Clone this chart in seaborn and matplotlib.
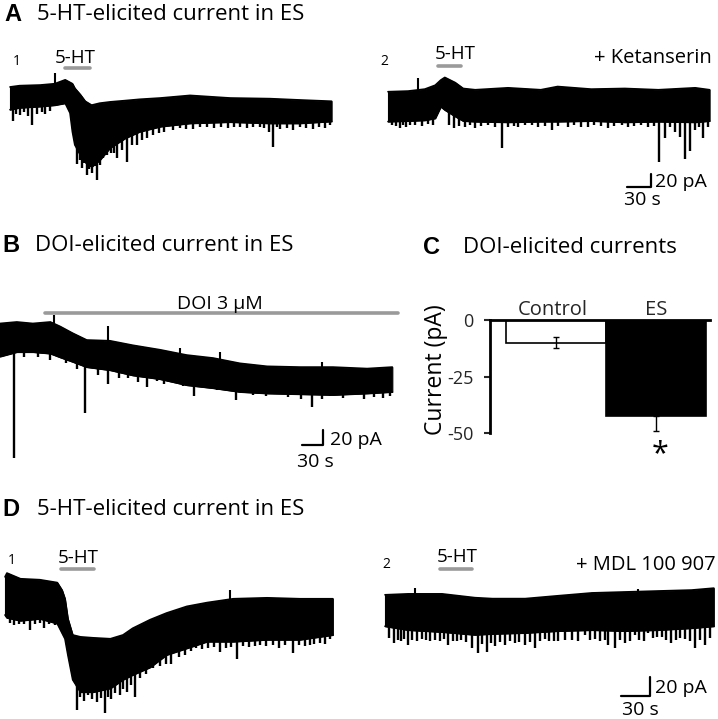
import numpy as np
import matplotlib
matplotlib.use("Agg")
import matplotlib.pyplot as plt
import seaborn as sns

W, H = 718, 719
sns.set_theme(style="white")
plt.rcParams["font.family"] = ["Open Sans", "DejaVu Sans"]

# ── Panel A1: 5-HT in ES (time s, current pA) ────────────────────────────────
a1_t      = [0, 12, 38, 56, 69, 75, 78, 81, 88, 94, 102, 112, 125, 144, 162, 188, 225, 275, 325, 362, 402]
a1_top    = [17, 19, 20, 22, 28, 24, 22, 15, 5, -5, -11, -8, -6, -4, -2, 0, 4, 0, -1, -3, -5]
a1_bottom = [-18, -15, -13, -11, -8, -23, -52, -72, -88, -99, -106, -96, -77, -62, -52, -44, -39, -37, -39, -39, -36]
a1_spk_t  = [4, 8, 12, 17, 22, 28, 34, 40, 44, 50, 84, 87, 90, 93, 96, 99, 102, 106, 109, 112, 116, 121, 126, 130,
             134, 140, 146, 152, 159, 165, 171, 179, 186, 193, 204, 212, 220, 229, 238, 246, 255, 264, 272, 280,
             288, 296, 304, 312, 318, 324, 329, 334, 338, 346, 354, 362, 370, 379, 386, 394, 400]
a1_spk_i  = [-36, -24, -26, -22, -28, -42, -25, -21, -24, -20, -101, -96, -108, -100, -119, -110, -116, -104, -126, -103,
             -92, -88, -85, -84, -93, -80, -98, -72, -72, -65, -62, -57, -54, -52, -49, -46, -48, -47, -44, -45,
             -46, -44, -46, -45, -44, -46, -44, -44, -46, -52, -75, -45, -47, -46, -49, -45, -46, -47, -45, -46, -42]
a1_up_t   = [56]
a1_up_i   = [38]
a1_drug   = (69, 100)

# ── Panel A2: 5-HT + ketanserin ─────────────────────────────────────────────
a2_t      = [0, 25, 46, 59, 66, 71, 84, 94, 109, 150, 191, 212, 254, 296, 338, 384, 402]
a2_top    = [22, 23, 26, 32, 40, 44, 36, 27, 25, 28, 25, 30, 26, 27, 25, 28, 25]
a2_bottom = [-24, -23, -22, -19, -1, -6, -16, -23, -24, -25, -24, -24, -23, -25, -24, -25, -23]
a2_spk_t  = [5, 10, 15, 19, 23, 28, 34, 42, 50, 56, 76, 82, 89, 96, 103, 109, 116, 125, 134, 142, 150, 157, 163,
             171, 180, 188, 196, 205, 213, 225, 233, 241, 250, 258, 266, 275, 283, 292, 300, 308, 316, 325, 332,
             339, 346, 352, 359, 365, 371, 378, 384, 389, 394, 400]
a2_spk_i  = [-29, -31, -34, -30, -32, -30, -29, -31, -27, -30, -30, -34, -31, -32, -30, -34, -31, -30, -33, -65, -32,
             -31, -32, -30, -29, -32, -31, -37, -31, -32, -30, -33, -32, -30, -31, -34, -31, -30, -32, -31, -30,
             -32, -31, -86, -50, -33, -40, -47, -81, -70, -37, -33, -50, -32]
a2_up_t   = [38]
a2_up_i   = [43]
a2_drug   = (62, 91)

# ── Panel B: DOI in ES ──────────────────────────────────────────────────────
b_t      = [0, 24, 47, 72, 86, 104, 124, 157, 190, 229, 267, 305, 343, 382, 429, 476, 525, 561]
b_top    = [18, 20, 18, 20, 14, 5, -4, -5, -11, -17, -24, -28, -35, -39, -40, -40, -42, -40]
b_bottom = [-26, -20, -20, -22, -27, -33, -40, -44, -51, -56, -64, -68, -73, -75, -76, -77, -75, -73]
b_spk_t  = [20, 35, 55, 71, 95, 110, 122, 140, 155, 170, 183, 197, 210, 224, 234, 248, 262, 277, 293, 310, 325,
            338, 350, 362, 380, 396, 412, 430, 446, 460, 472, 490, 505, 520, 535, 548, 558]
b_spk_i  = [-161, -26, -27, -31, -34, -42, -101, -50, -62, -55, -55, -60, -66, -59, -62, -57, -65, -79, -66, -70, -72,
            -84, -74, -77, -79, -75, -80, -82, -93, -82, -79, -81, -77, -82, -80, -81, -79]
b_up_t   = [77, 155, 257, 315, 460]
b_up_i   = [29, 14, -15, -20, -33]
b_drug   = (64, 569)

# ── Panel C: DOI-elicited currents ──────────────────────────────────────────
c_groups = ["Control", "ES"]
c_means  = [-10.0, -42.4]
c_err_lo = [2.5, 6.5]
c_err_hi = [2.5, 0.0]

# ── Panel D1: 5-HT in ES ────────────────────────────────────────────────────
d1_t      = [0, 2, 16, 36, 54, 59, 62, 65, 70, 78, 91, 109, 122, 132, 150, 167, 188, 209, 236, 271, 305, 339]
d1_top    = [18, 22, 16, 15, 12, 4, -5, -26, -43, -45, -46, -47, -43, -36, -27, -20, -13, -9, -5, -4, -5, -5]
d1_bottom = [-22, -25, -28, -26, -31, -41, -47, -64, -90, -103, -103, -99, -90, -85, -77, -64, -57, -50, -50, -48, -48, -43]
d1_spk_t  = [5, 9, 14, 20, 26, 31, 36, 40, 46, 52, 74, 78, 82, 86, 90, 95, 99, 103, 106, 110, 114, 119, 122, 126,
             130, 134, 140, 146, 153, 160, 166, 172, 180, 186, 192, 198, 204, 210, 216, 222, 228, 234, 240, 246,
             252, 258, 264, 270, 277, 283, 290, 298, 304, 310, 315, 320, 326, 331, 336]
d1_spk_i  = [-30, -33, -31, -32, -38, -32, -30, -36, -31, -33, -122, -108, -112, -106, -110, -113, -109, -125, -108, -110,
             -104, -106, -100, -103, -96, -108, -88, -84, -78, -76, -73, -73, -66, -64, -60, -57, -58, -57, -56, -61,
             -57, -56, -68, -55, -56, -55, -54, -55, -54, -57, -54, -62, -54, -55, -54, -53, -51, -52, -47]
d1_up_t   = [233]
d1_up_i   = [4]
d1_drug   = (58, 92)

# ── Panel D2: 5-HT + MDL 100 907 ────────────────────────────────────────────
d2_t      = [0, 24, 59, 93, 111, 145, 179, 214, 248, 282, 317, 340]
d2_top    = [17, 18, 18, 14, 13, 13, 16, 19, 20, 21, 22, 24]
d2_bottom = [-16, -20, -22, -25, -24, -23, -21, -20, -21, -20, -18, -16]
d2_spk_t  = [4, 9, 13, 17, 20, 24, 28, 33, 38, 42, 47, 52, 57, 61, 65, 70, 74, 79, 84, 90, 96, 100, 105, 110,
             114, 119, 124, 129, 134, 139, 145, 150, 155, 160, 165, 170, 175, 179, 186, 193, 200, 207, 212, 217,
             222, 227, 231, 238, 243, 248, 253, 258, 263, 268, 272, 277, 281, 286, 291, 296, 301, 305, 310, 315,
             321, 326, 331, 336]
d2_spk_i  = [-28, -34, -30, -32, -29, -36, -30, -31, -29, -30, -32, -30, -31, -29, -36, -31, -32, -30, -33, -39, -44,
             -35, -43, -34, -37, -33, -36, -32, -34, -33, -36, -33, -39, -31, -29, -32, -31, -32, -30, -30, -31,
             -25, -30, -29, -32, -30, -36, -39, -30, -34, -31, -25, -30, -31, -23, -28, -27, -27, -30, -34, -30,
             -28, -29, -31, -39, -30, -36, -28]
d2_up_t   = [31, 262]
d2_up_i   = [24, 23]
d2_drug   = (57, 90)

GREY = "#9a9a9a"
fig = plt.figure(figsize=(W / 100, H / 100), dpi=100)


def ftext(x, y, s, size=14, **kw):
    kw.setdefault("va", "baseline")
    return fig.text(x / W, 1 - y / H, s, fontsize=size, color="black", **kw)


def trace_axes(box, origin, scale):
    # box in figure pixels (left, top, right, bottom); origin = pixel of t=0, I=0
    l, t, r, b = box
    x0, y0 = origin
    s_px, pa_px = scale
    ax = fig.add_axes([l / W, 1 - b / H, (r - l) / W, (b - t) / H])
    ax.set_xlim((l - x0) * s_px, (r - x0) * s_px)
    ax.set_ylim((y0 - b) * pa_px, (y0 - t) * pa_px)
    ax.set_axis_off()
    return ax


def draw_trace(ax, t, top, bottom, spk_t, spk_i, up_t, up_i, drug, drug_y):
    ax.fill_between(t, bottom, top, color="black", lw=0.8)
    sns.lineplot(x=t, y=top, ax=ax, color="black", lw=1.2)
    sns.lineplot(x=t, y=bottom, ax=ax, color="black", lw=1.2)
    base = np.interp(spk_t, t, bottom)
    ax.vlines(spk_t, spk_i, base + 2, color="black", lw=1.7)
    ubase = np.interp(up_t, t, top)
    ax.vlines(up_t, ubase - 2, up_i, color="black", lw=1.5)
    ax.plot(drug, [drug_y, drug_y], color=GREY, lw=2.6, solid_capstyle="round")


def scale_bar(ax, t_end, i0):
    ax.plot([t_end - 30, t_end, t_end], [i0, i0, i0 + 20], color="black", lw=1.6)


SC_A = (1.25, 1.54)
SC_B = (1.43, 1.33)
SC_D = (1.034, 1.05)

ax_a1 = trace_axes((0, 40, 360, 200), (10, 98), SC_A)
draw_trace(ax_a1, a1_t, a1_top, a1_bottom, a1_spk_t, a1_spk_i, a1_up_t, a1_up_i, a1_drug, 46)

ax_a2 = trace_axes((370, 40, 718, 210), (388, 106), SC_A)
draw_trace(ax_a2, a2_t, a2_top, a2_bottom, a2_spk_t, a2_spk_i, a2_up_t, a2_up_i, a2_drug, 62)
scale_bar(ax_a2, 329, -125)

ax_b = trace_axes((0, 290, 410, 475), (0, 337), SC_B)
draw_trace(ax_b, b_t, b_top, b_bottom, b_spk_t, b_spk_i, b_up_t, b_up_i, b_drug, 32)
scale_bar(ax_b, 462, -144)

ax_d1 = trace_axes((0, 545, 360, 719), (5, 594), SC_D)
draw_trace(ax_d1, d1_t, d1_top, d1_bottom, d1_spk_t, d1_spk_i, d1_up_t, d1_up_i, d1_drug, 26)

ax_d2 = trace_axes((370, 545, 718, 719), (385, 611), SC_D)
draw_trace(ax_d2, d2_t, d2_top, d2_bottom, d2_spk_t, d2_spk_i, d2_up_t, d2_up_i, d2_drug, 44)
scale_bar(ax_d2, 274, -89)

# ── Panel C bar chart ───────────────────────────────────────────────────────
l, t, r, b = 490, 320, 710, 433
ax_c = fig.add_axes([l / W, 1 - b / H, (r - l) / W, (b - t) / H])
sns.barplot(x=c_groups, y=c_means, hue=c_groups, palette=["white", "black"],
            edgecolor="black", linewidth=1.2, width=1.0, errorbar=None,
            legend=False, ax=ax_c)
ax_c.errorbar([0, 1], c_means, yerr=[c_err_lo, c_err_hi], fmt="none",
              ecolor="black", elinewidth=1.0, capsize=2.5, capthick=1.0, clip_on=False)
ax_c.set_xlim(-0.66, 1.54)
ax_c.set_ylim(-50, 0)
ax_c.set_facecolor("none")
for side in ["right", "bottom"]:
    ax_c.spines[side].set_visible(False)
for side in ["left", "top"]:
    ax_c.spines[side].set_linewidth(2.0)
    ax_c.spines[side].set_color("black")
ax_c.set_xticks([])
ax_c.set_yticks([0, -25, -50])
ax_c.set_yticklabels(["0", "-25", "-50"], fontsize=13)
ax_c.tick_params(axis="y", direction="out", length=4, width=1.5, pad=8, left=True)
ax_c.set_xlabel("")
ax_c.set_ylabel("")
for i, g in enumerate(c_groups):
    ax_c.text(i - 0.03 * (i == 0), 2.0, g, ha="center", va="baseline", fontsize=14.5)
ftext(660, 462, "*", size=22, ha="center")
ftext(436, 370, "Current (pA)", size=16.5, rotation=90, ha="center", va="center")

# ── Text ────────────────────────────────────────────────────────────────────
bold = dict(family="Liberation Sans", weight="bold")
ftext(4, 21, "A", size=17, **bold)
ftext(37, 20, "5-HT-elicited current in ES", size=16)
ftext(2, 252, "B", size=17, **bold)
ftext(35, 251, "DOI-elicited current in ES", size=16)
ftext(423, 254, "C", size=17, **bold)
ftext(463, 253, "DOI-elicited currents", size=16)
ftext(2, 516, "D", size=17, **bold)
ftext(37, 515, "5-HT-elicited current in ES", size=16)

ftext(13, 65, "1", size=10)
ftext(55, 63, "5-HT", size=13.5)
ftext(380, 65, "2", size=10)
ftext(435, 59, "5-HT", size=13.5)
ftext(712, 63, "+ Ketanserin", size=14.5, ha="right")
ftext(655, 187, "20 pA", size=14)
ftext(624, 205, "30 s", size=14)

ftext(177, 309, "DOI 3 μM", size=14)
ftext(330, 445, "20 pA", size=14)
ftext(297, 467, "30 s", size=14)

ftext(8, 564, "1", size=10)
ftext(58, 563, "5-HT", size=13.5)
ftext(382, 568, "2", size=10)
ftext(437, 562, "5-HT", size=13.5)
ftext(716, 570, "+ MDL 100 907", size=14.5, ha="right")
ftext(655, 693, "20 pA", size=14)
ftext(622, 715, "30 s", size=14)

fig.savefig("out.png", dpi=100)
